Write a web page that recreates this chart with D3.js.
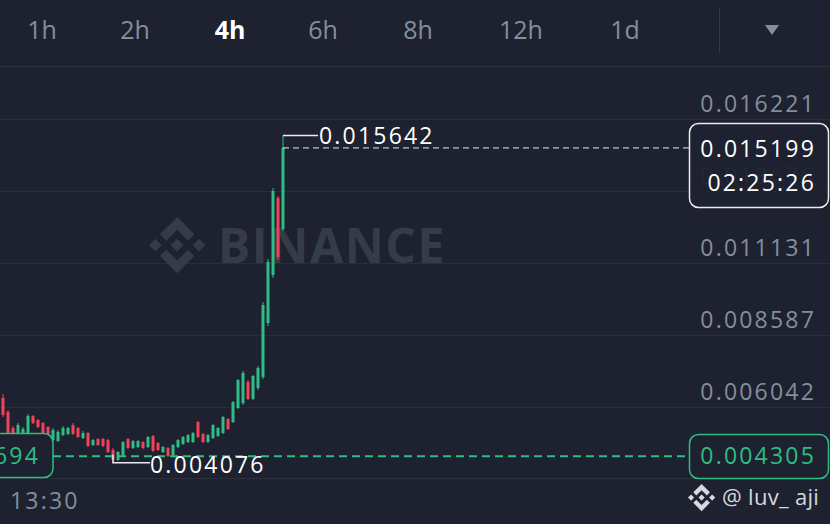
<!DOCTYPE html>
<html><head><meta charset="utf-8">
<script src="https://cdn.jsdelivr.net/npm/d3@7"></script>
<style>
html,body{margin:0;padding:0;background:#1e2230;overflow:hidden;}
svg{display:block;}
text{font-family:"Open Sans",Roboto,sans-serif;}
</style></head>
<body><svg id="chart" width="830" height="524"></svg>
<script>
// ---- data ----
const intervals = ["1h","2h","4h","6h","8h","12h","1d"];
const activeInterval = "4h";
const priceTicks = [0.016221, 0.013676, 0.011131, 0.008587, 0.006042];
const timeLabels = ["13:30"];
const opens  = [0.006359,0.005864,0.005299,0.005016,0.005016,0.005016,0.005723,0.005582,0.005476,0.005334,
                0.004875,0.004839,0.005051,0.005087,0.005405,0.005299,0.004945,0.005122,0.004698,0.004910,
                0.004910,0.004875,0.004521,0.004168,0.004344,0.004910,0.004592,0.004627,0.004804,0.004627,
                0.005016,0.004769,0.004450,0.004592,0.004344,0.004627,0.004733,0.004804,0.004804,0.005511,
                0.005087,0.004804,0.004945,0.005016,0.005122,0.005617,0.005511,0.006006,0.006182,0.006925,
                0.006324,0.006713,0.007102,0.009010,0.010707,0.013429,0.012333];
const highs  = [0.006501,0.005935,0.005370,0.005476,0.005334,0.005794,0.005758,0.005617,0.005511,0.005370,
                0.005299,0.005228,0.005370,0.005334,0.005476,0.005334,0.005193,0.005157,0.004910,0.004945,
                0.004945,0.004910,0.004592,0.004486,0.004839,0.004945,0.004875,0.004875,0.004839,0.005016,
                0.005051,0.004804,0.004663,0.004627,0.004733,0.004910,0.005016,0.005087,0.005157,0.005546,
                0.005122,0.005087,0.005440,0.005334,0.005723,0.005652,0.006253,0.007031,0.007314,0.006995,
                0.007172,0.007490,0.009753,0.011272,0.013782,0.013499,0.015642];
const lows   = [0.005688,0.004945,0.004981,0.004981,0.004981,0.004981,0.005440,0.005299,0.005087,0.004981,
                0.004839,0.004804,0.005016,0.005051,0.005051,0.004945,0.004910,0.004627,0.004663,0.004663,
                0.004627,0.004415,0.004076,0.004132,0.004309,0.004556,0.004556,0.004592,0.004556,0.004592,
                0.004450,0.004486,0.004415,0.004274,0.004309,0.004592,0.004698,0.004769,0.004769,0.004945,
                0.004769,0.004769,0.004910,0.004981,0.005087,0.005228,0.005476,0.005970,0.006112,0.006289,
                0.006289,0.006642,0.007031,0.008904,0.010601,0.011237,0.012262];
const closes = [0.005758,0.005016,0.005016,0.005405,0.005263,0.005723,0.005476,0.005334,0.005122,0.005016,
                0.005228,0.005157,0.005299,0.005299,0.005087,0.004981,0.005122,0.004663,0.004875,0.004698,
                0.004663,0.004450,0.004168,0.004450,0.004804,0.004592,0.004839,0.004839,0.004592,0.004981,
                0.004486,0.004521,0.004627,0.004309,0.004698,0.004875,0.004981,0.005051,0.005122,0.004981,
                0.004804,0.005051,0.005405,0.005299,0.005688,0.005263,0.006218,0.006995,0.007243,0.006324,
                0.007137,0.007420,0.009647,0.011166,0.013676,0.011343,0.015199];
const lastPrice = 0.015199;
const countdown = "02:25:26";
const highPrice = 0.015642;
const lowPrice = 0.004076;
const linePrice = 0.004305;
const leftTag = "694";
const watermark = "BINANCE";
const handle = "@ luv_ aji";

// ---- styles ----
const BG = "#1e2230", GRID = "#2a2e3a", GREY = "#848e9c", UP = "#2ebd85", DOWN = "#f0435a", WHITE = "#eaecef";
const FS = 23, LS = 2.2;

const svg = d3.select("#chart");
svg.append("rect").attr("width",830).attr("height",524).attr("fill",BG);

const idx = d3.range(opens.length);
const x = d3.scaleLinear().domain([0, opens.length-1]).range([3, 283]);
const y = d3.scaleLinear().domain([0.006042, 0.016221]).range([407, 119]);

// top bar
const tabPos = {"1h":42,"2h":135,"4h":230,"6h":323,"8h":418,"12h":521,"1d":625};
svg.append("g").selectAll("text").data(intervals).join("text")
  .attr("x", d=>tabPos[d]).attr("y", 39).attr("text-anchor","middle")
  .attr("font-size",25).attr("font-weight", d=>d===activeInterval?700:400)
  .attr("fill", d=>d===activeInterval?"#ffffff":GREY).text(d=>d);
svg.append("line").attr("x1",719.5).attr("x2",719.5).attr("y1",8).attr("y2",52).attr("stroke","#363a46").attr("stroke-width",1);
svg.append("path").attr("d","M765,25 L779,25 L772,35 Z").attr("fill",GREY);
svg.append("line").attr("x1",0).attr("x2",830).attr("y1",66.5).attr("y2",66.5).attr("stroke","#2c303c").attr("stroke-width",1.5);

// gridlines
svg.append("g").selectAll("line").data(priceTicks).join("line")
  .attr("x1",0).attr("x2",830).attr("y1",d=>Math.round(y(d))+0.5).attr("y2",d=>Math.round(y(d))+0.5)
  .attr("stroke",GRID).attr("stroke-width",1);

// watermark
const logoPaths = [
 "M38.73,53.2 L63.3,28.63 L87.89,53.22 L102.19,38.92 L63.3,0 L24.42,38.9 Z",
 "M0,63.31 L14.3,49.01 L28.6,63.31 L14.3,77.61 Z",
 "M38.73,73.41 L63.3,97.99 L87.89,73.4 L102.2,87.69 L63.3,126.61 L24.42,87.71 Z",
 "M98.01,63.31 L112.31,49.01 L126.61,63.31 L112.31,77.61 Z",
 "M77.81,63.3 L63.3,48.78 L48.79,63.28 L63.3,77.8 Z"
];
const wm = svg.append("g");
wm.append("g").attr("transform","translate(149,217) scale(0.445)")
  .selectAll("path").data(logoPaths).join("path").attr("d",d=>d).attr("fill","#363b48");
wm.append("text").attr("x",218).attr("y",263).attr("font-family","Roboto, sans-serif")
  .attr("font-size",48).attr("font-weight",700).attr("letter-spacing",1.6).attr("fill","#363b48").text(watermark);

// bottom separator & time axis
svg.append("line").attr("x1",0).attr("x2",830).attr("y1",478.5).attr("y2",478.5).attr("stroke","#2c303c").attr("stroke-width",1);
svg.append("g").selectAll("text").data(timeLabels).join("text")
  .attr("x",10).attr("y",509).attr("font-size",FS).attr("letter-spacing",LS).attr("fill",GREY).text(d=>d);

// price labels
svg.append("g").selectAll("text").data(priceTicks).join("text")
  .attr("x",816).attr("y",d=>y(d)-7).attr("text-anchor","end").attr("font-size",FS).attr("letter-spacing",LS)
  .attr("fill",GREY).text(d=>d.toFixed(6));

// candles
const cg = svg.append("g");
cg.selectAll("line").data(idx).join("line")
  .attr("x1",i=>x(i)).attr("x2",i=>x(i)).attr("y1",i=>y(highs[i])).attr("y2",i=>y(lows[i]))
  .attr("stroke",i=>closes[i]>=opens[i]?UP:DOWN).attr("stroke-width",1);
cg.selectAll("rect").data(idx).join("rect")
  .attr("x",i=>x(i)-1.5).attr("width",3)
  .attr("y",i=>y(Math.max(opens[i],closes[i])))
  .attr("height",i=>Math.max(1,Math.abs(y(opens[i])-y(closes[i]))))
  .attr("fill",i=>closes[i]>=opens[i]?UP:DOWN);

// current price line
svg.append("line").attr("x1",x(opens.length-1)).attr("x2",689).attr("y1",y(lastPrice)).attr("y2",y(lastPrice))
  .attr("stroke",WHITE).attr("stroke-width",1).attr("stroke-dasharray","6,4");
// green price line
svg.append("line").attr("x1",53).attr("x2",689).attr("y1",y(linePrice)).attr("y2",y(linePrice))
  .attr("stroke",UP).attr("stroke-width",2).attr("stroke-dasharray","8,5");

// high marker
const hi = highs.indexOf(highPrice);
svg.append("line").attr("x1",x(hi)).attr("x2",318).attr("y1",y(highPrice)).attr("y2",y(highPrice)).attr("stroke",WHITE).attr("stroke-width",1.5);
svg.append("text").attr("x",319).attr("y",y(highPrice)+9).attr("font-size",FS).attr("letter-spacing",LS).attr("fill","#ffffff").text(highPrice.toFixed(6));
// low marker
const lo = lows.indexOf(lowPrice);
svg.append("path").attr("d",`M${x(lo)},${y(lowPrice)-8} L${x(lo)},${y(lowPrice)} L150,${y(lowPrice)}`)
  .attr("fill","none").attr("stroke",WHITE).attr("stroke-width",1.5);
svg.append("text").attr("x",150).attr("y",y(lowPrice)+10).attr("font-size",FS).attr("letter-spacing",LS).attr("fill","#ffffff").text(lowPrice.toFixed(6));

// left green tag
svg.append("rect").attr("x",-20).attr("y",433.5).attr("width",73).attr("height",44).attr("rx",9)
  .attr("fill",BG).attr("stroke",UP).attr("stroke-width",1.5);
svg.append("text").attr("x",40).attr("y",y(linePrice)+8).attr("text-anchor","end").attr("font-size",FS).attr("letter-spacing",LS).attr("fill",UP).text(leftTag);

// right green tag
svg.append("rect").attr("x",689.5).attr("y",434.5).attr("width",139).attr("height",44).attr("rx",9)
  .attr("fill",BG).attr("stroke",UP).attr("stroke-width",1.5);
svg.append("text").attr("x",816).attr("y",y(linePrice)+8).attr("text-anchor","end").attr("font-size",FS).attr("letter-spacing",LS).attr("fill",UP).text(linePrice.toFixed(6));

// current price box
svg.append("rect").attr("x",689.5).attr("y",123.5).attr("width",139).attr("height",84).attr("rx",9)
  .attr("fill",BG).attr("fill-opacity",0.95).attr("stroke",WHITE).attr("stroke-width",1.5);
svg.append("text").attr("x",816).attr("y",157).attr("text-anchor","end").attr("font-size",FS).attr("letter-spacing",LS).attr("fill","#ffffff").text(lastPrice.toFixed(6));
svg.append("text").attr("x",816).attr("y",191).attr("text-anchor","end").attr("font-size",FS).attr("letter-spacing",LS).attr("fill","#ffffff").text(countdown);

// handle
svg.append("g").attr("transform","translate(688,484) scale(0.215)")
  .selectAll("path").data(logoPaths).join("path").attr("d",d=>d).attr("fill","#d5d8dc");
svg.append("text").attr("x",722).attr("y",505).attr("font-size",22).attr("letter-spacing",0.3).attr("fill","#d5d8dc").text(handle);
</script></body></html>
